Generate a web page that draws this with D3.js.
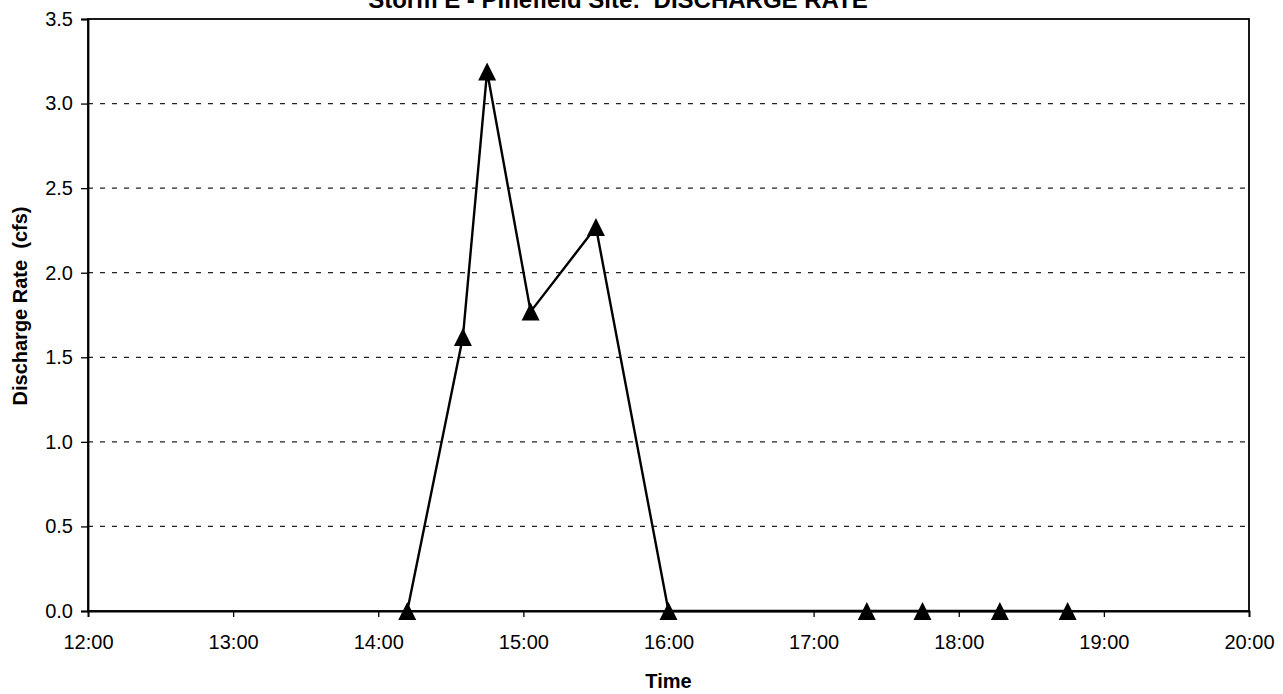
<!DOCTYPE html>
<html>
<head>
<meta charset="utf-8">
<script src="https://cdn.jsdelivr.net/npm/d3@7"></script>
<style>
  html, body { margin: 0; padding: 0; background: #fff; }
  svg { display: block; }
  text { font-family: Arial, "Liberation Sans", sans-serif; fill: #000; white-space: pre; }
</style>
</head>
<body>
<svg id="chart" width="1283" height="694"></svg>
<script>
// Storm E, Pinefield site: discharge rate readings
const sampleTimes = ["14:12", "14:35", "14:45", "15:03", "15:30", "16:00", "17:22", "17:45", "18:17", "18:45"];
const dischargeCfs = [0.0, 1.62, 3.19, 1.77, 2.27, 0.0, 0.0, 0.0, 0.0, 0.0];
const yTicks = [0, 0.5, 1.0, 1.5, 2.0, 2.5, 3.0, 3.5];
const xTickHours = [12, 13, 14, 15, 16, 17, 18, 19, 20];

const chartTitle = "Storm E - Pinefield Site:  DISCHARGE RATE";
const xTitle = "Time";
const yTitle = "Discharge Rate  (cfs)";

const toHours = s => { const [h, m] = s.split(":").map(Number); return h + m / 60; };
const points = sampleTimes.map((t, i) => ({ x: toHours(t), y: dischargeCfs[i] }));

const plot = { left: 88, right: 1249, top: 19, bottom: 611 };
const svg = d3.select("#chart");

const x = d3.scaleLinear().domain([12, 20]).range([plot.left, plot.right]);
const y = d3.scaleLinear().domain([0, 3.5]).range([plot.bottom, plot.top]);

// dashed horizontal gridlines
svg.append("g")
  .selectAll("line")
  .data(yTicks.filter(v => v > 0 && v < 3.5))
  .join("line")
  .attr("x1", plot.left).attr("x2", plot.right)
  .attr("y1", d => y(d)).attr("y2", d => y(d))
  .attr("stroke", "#222").attr("stroke-width", 1.3)
  .attr("stroke-dasharray", "5,7");

// plot frame
svg.append("rect")
  .attr("x", plot.left).attr("y", plot.top)
  .attr("width", plot.right - plot.left).attr("height", plot.bottom - plot.top)
  .attr("fill", "none").attr("stroke", "#000").attr("stroke-width", 1.8);

// axes
const yAxis = d3.axisLeft(y).tickValues(yTicks).tickFormat(d3.format(".1f")).tickSize(7).tickPadding(8);
const xAxis = d3.axisBottom(x).tickValues(xTickHours)
  .tickFormat(h => `${h}:00`).tickSize(6).tickPadding(18);

const gy = svg.append("g").attr("transform", `translate(${plot.left},0)`).call(yAxis);
const gx = svg.append("g").attr("transform", `translate(0,${plot.bottom})`).call(xAxis);
[gx, gy].forEach(g => {
  g.select(".domain").attr("stroke", "#000").attr("stroke-width", 1.8);
  g.selectAll(".tick line").attr("stroke", "#000").attr("stroke-width", 1.3);
  g.selectAll(".tick text").attr("font-size", 20).attr("fill", "#000")
    .attr("font-family", "Arial, 'Liberation Sans', sans-serif");
});

// data line
const line = d3.line().x(d => x(d.x)).y(d => y(d.y));
svg.append("path")
  .datum(points)
  .attr("d", line)
  .attr("fill", "none")
  .attr("stroke", "#000")
  .attr("stroke-width", 2.4)
  .attr("stroke-linejoin", "round");

// triangle marker: as tall as it is wide, centred on its bounding box
const tallTriangle = {
  draw(context, size) {
    const h = Math.sqrt(size) / 2;
    context.moveTo(0, -h);
    context.lineTo(h, h);
    context.lineTo(-h, h);
    context.closePath();
  }
};
const tri = d3.symbol().type(tallTriangle).size(18 * 18);
svg.append("g")
  .selectAll("path")
  .data(points)
  .join("path")
  .attr("d", tri)
  .attr("transform", d => `translate(${x(d.x)},${y(d.y)})`)
  .attr("fill", "#000");

// titles
svg.append("text")
  .attr("x", 618).attr("y", 8)
  .attr("text-anchor", "middle")
  .attr("font-size", 24).attr("font-weight", "bold")
  .text(chartTitle);

svg.append("text")
  .attr("x", (plot.left + plot.right) / 2).attr("y", 688)
  .attr("text-anchor", "middle")
  .attr("font-size", 20).attr("font-weight", "bold")
  .text(xTitle);

svg.append("text")
  .attr("transform", "translate(27,306) rotate(-90)")
  .attr("text-anchor", "middle")
  .attr("font-size", 20).attr("font-weight", "bold")
  .text(yTitle);
</script>
</body>
</html>
